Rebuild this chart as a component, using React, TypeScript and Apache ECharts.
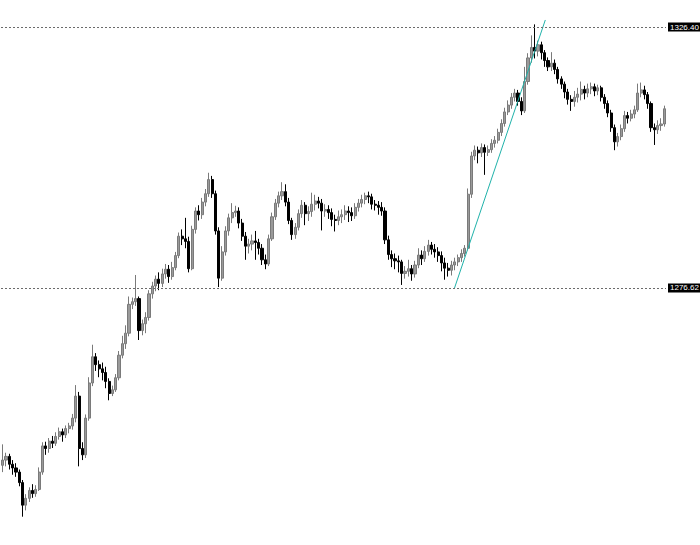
import React, { useEffect, useRef } from "react";
import * as echarts from "echarts";

const opens = [
  1242.8,1243.8,1244.5,1243.0,1242.3,1241.5,1239.5,1235.2,1236.5,1238.0,
  1237.4,1238.2,1241.5,1246.5,1246.0,1247.4,1247.0,1248.3,1249.2,1248.6,
  1249.8,1250.3,1251.8,1256.0,1246.0,1244.8,1251.8,1258.5,1263.5,1262.0,
  1261.2,1260.5,1258.8,1256.5,1257.2,1259.5,1263.8,1266.0,1268.0,1273.5,
  1274.0,1274.6,1268.5,1269.8,1271.0,1275.5,1277.0,1278.3,1277.5,1279.3,
  1280.2,1278.8,1280.5,1282.8,1286.5,1286.0,1285.5,1280.3,1287.8,1291.3,
  1290.6,1293.0,1294.6,1297.3,1294.6,1287.5,1278.5,1283.5,1287.5,1290.0,
  1291.0,1291.3,1289.0,1286.5,1284.6,1285.0,1285.6,1285.3,1284.2,1282.0,
  1281.2,1286.0,1290.2,1292.8,1294.2,1295.0,1293.0,1289.5,1286.8,1288.2,
  1290.8,1292.4,1290.8,1291.2,1292.6,1293.2,1292.8,1291.3,1291.6,1291.0,
  1289.7,1289.5,1290.2,1290.6,1291.3,1291.0,1290.4,1292.0,1292.8,1293.5,
  1294.2,1294.0,1292.6,1292.4,1292.0,1291.3,1285.8,1283.0,1282.2,1281.8,
  1281.6,1279.4,1279.8,1280.3,1279.3,1281.0,1282.9,1282.2,1283.6,1284.8,
  1284.0,1283.5,1282.8,1281.4,1280.4,1280.0,1281.0,1281.6,1282.4,1283.2,
  1284.2,1294.5,1301.8,1302.9,1302.4,1303.4,1302.5,1303.0,1304.2,1304.8,
  1306.3,1308.0,1310.2,1311.5,1313.0,1313.8,1312.2,1310.4,1316.0,1320.5,
  1322.5,1321.8,1323.0,1321.5,1320.0,1318.8,1319.5,1318.3,1316.5,1315.5,
  1314.0,1312.6,1312.2,1313.0,1313.6,1314.5,1313.8,1314.6,1315.0,1314.2,
  1314.8,1313.0,1311.8,1310.0,1307.2,1304.5,1305.5,1307.0,1309.5,1309.0,
  1309.8,1310.6,1313.8,1314.4,1313.5,1311.8,1307.2,1306.8,1307.6,1307.9,
];

const closes = [
  1243.8,1244.5,1243.0,1242.3,1241.5,1239.5,1235.2,1236.5,1238.0,1237.4,
  1238.2,1241.5,1246.5,1246.0,1247.4,1247.0,1248.3,1249.2,1248.6,1249.8,
  1250.3,1251.8,1256.0,1246.0,1244.8,1251.8,1258.5,1263.5,1262.0,1261.2,
  1260.5,1258.8,1256.5,1257.2,1259.5,1263.8,1266.0,1268.0,1273.5,1274.0,
  1274.6,1268.5,1269.8,1271.0,1275.5,1277.0,1278.3,1277.5,1279.3,1280.2,
  1278.8,1280.5,1282.8,1286.5,1286.0,1285.5,1280.3,1287.8,1291.3,1290.6,
  1293.0,1294.6,1297.3,1294.6,1287.5,1278.5,1283.5,1287.5,1290.0,1291.0,
  1291.3,1289.0,1286.5,1284.6,1285.0,1285.6,1285.3,1284.2,1282.0,1281.2,
  1286.0,1290.2,1292.8,1294.2,1295.0,1293.0,1289.5,1286.8,1288.2,1290.8,
  1292.4,1290.8,1291.2,1292.6,1293.2,1292.8,1291.3,1291.6,1291.0,1289.7,
  1289.5,1290.2,1290.6,1291.3,1291.0,1290.4,1292.0,1292.8,1293.5,1294.2,
  1294.0,1292.6,1292.4,1292.0,1291.3,1285.8,1283.0,1282.2,1281.8,1281.6,
  1279.4,1279.8,1280.3,1279.3,1281.0,1282.9,1282.2,1283.6,1284.8,1284.0,
  1283.5,1282.8,1281.4,1280.4,1280.0,1281.0,1281.6,1282.4,1283.2,1284.2,
  1294.5,1301.8,1302.9,1302.4,1303.4,1302.5,1303.0,1304.2,1304.8,1306.3,
  1308.0,1310.2,1311.5,1313.0,1313.8,1312.2,1310.4,1316.0,1320.5,1322.5,
  1321.8,1323.0,1321.5,1320.0,1318.8,1319.5,1318.3,1316.5,1315.5,1314.0,
  1312.6,1312.2,1313.0,1313.6,1314.5,1313.8,1314.6,1315.0,1314.2,1314.8,
  1313.0,1311.8,1310.0,1307.2,1304.5,1305.5,1307.0,1309.5,1309.0,1309.8,
  1310.6,1313.8,1314.4,1313.5,1311.8,1307.2,1306.8,1307.6,1307.9,1310.8,
];

const lows = [
  1241.5,1242.6,1242.0,1241.0,1240.6,1238.8,1233.0,1234.2,1235.8,1236.6,
  1236.8,1237.9,1241.0,1244.8,1245.2,1246.1,1246.5,1247.7,1247.3,1248.0,
  1248.9,1249.6,1251.0,1242.6,1243.8,1244.2,1251.3,1257.9,1260.8,1259.6,
  1259.0,1257.5,1255.2,1256.0,1256.8,1259.0,1263.2,1265.0,1267.4,1272.6,
  1273.2,1266.7,1267.6,1268.0,1270.4,1274.6,1276.0,1276.2,1276.8,1278.4,
  1277.6,1278.2,1280.0,1282.3,1284.8,1284.2,1279.6,1280.0,1287.0,1289.5,
  1289.8,1292.2,1294.0,1293.8,1286.8,1276.8,1278.0,1282.8,1286.6,1289.0,
  1290.2,1288.0,1285.6,1282.0,1283.2,1283.8,1282.0,1283.0,1281.0,1280.2,
  1280.8,1285.6,1289.6,1292.0,1293.4,1292.2,1288.8,1285.8,1286.0,1287.6,
  1290.0,1288.6,1289.4,1290.2,1291.4,1291.8,1287.6,1290.2,1289.8,1288.4,
  1287.4,1288.6,1289.0,1289.6,1289.2,1289.4,1289.8,1291.2,1292.0,1292.6,
  1292.8,1291.6,1291.4,1290.6,1290.4,1285.0,1282.0,1280.6,1280.2,1279.6,
  1277.2,1278.4,1278.8,1278.0,1278.6,1280.4,1281.0,1281.6,1282.8,1283.0,
  1282.4,1281.6,1279.8,1278.2,1278.8,1279.0,1280.0,1280.8,1281.6,1282.6,
  1283.8,1293.8,1301.0,1300.4,1301.6,1298.2,1301.8,1302.4,1303.4,1304.2,
  1305.6,1307.4,1309.6,1310.8,1312.2,1311.4,1309.6,1310.0,1315.4,1319.6,
  1320.4,1320.8,1320.2,1318.8,1318.0,1318.0,1317.4,1315.6,1314.6,1312.8,
  1311.6,1310.4,1311.2,1312.0,1312.4,1312.6,1313.0,1313.6,1313.2,1313.4,
  1312.2,1310.8,1309.2,1306.4,1302.9,1303.6,1304.8,1306.4,1308.0,1308.4,
  1309.0,1310.2,1313.0,1312.6,1310.8,1306.4,1303.9,1306.0,1306.6,1307.4,
];

const highs = [
  1246.8,1245.2,1245.0,1243.8,1243.2,1242.0,1240.0,1237.3,1238.6,1239.2,
  1239.0,1242.4,1247.2,1247.3,1248.0,1248.4,1249.1,1250.0,1249.8,1250.4,
  1250.9,1252.6,1258.1,1256.8,1247.2,1252.5,1259.6,1265.8,1264.2,1262.8,
  1262.4,1261.6,1259.4,1258.0,1260.2,1264.6,1267.5,1269.5,1275.0,1274.8,
  1279.1,1275.0,1270.6,1272.0,1276.2,1277.8,1279.0,1279.6,1280.3,1281.2,
  1281.0,1281.6,1283.5,1287.2,1287.8,1290.0,1286.4,1288.5,1292.0,1292.4,
  1293.8,1295.5,1298.6,1298.0,1295.2,1288.2,1284.6,1288.4,1290.8,1292.8,
  1292.3,1292.0,1289.8,1287.3,1286.0,1286.8,1287.5,1286.0,1285.0,1283.0,
  1286.8,1291.0,1293.6,1295.0,1296.8,1296.4,1293.8,1290.0,1289.0,1291.6,
  1293.4,1293.0,1292.2,1294.8,1294.4,1294.0,1293.6,1292.6,1292.4,1291.8,
  1290.6,1291.4,1291.6,1292.4,1292.2,1292.0,1292.8,1293.6,1294.4,1294.8,
  1295.0,1294.6,1293.4,1293.2,1293.0,1292.0,1286.6,1283.8,1283.2,1282.8,
  1282.0,1280.8,1282.0,1281.0,1281.8,1284.2,1283.8,1284.6,1285.8,1285.4,
  1285.0,1284.4,1283.6,1282.4,1281.4,1281.8,1282.4,1283.0,1284.0,1284.8,
  1295.6,1302.6,1303.8,1303.6,1304.2,1304.0,1303.8,1305.0,1305.6,1307.0,
  1308.8,1311.0,1312.4,1313.8,1314.6,1314.4,1313.0,1318.8,1321.4,1324.8,
  1326.9,1323.8,1323.6,1322.0,1320.6,1321.6,1320.2,1318.8,1317.0,1316.0,
  1314.6,1313.4,1314.2,1314.8,1316.0,1315.2,1315.6,1315.8,1315.6,1315.4,
  1315.2,1313.6,1312.4,1310.6,1307.8,1306.2,1307.8,1310.4,1310.2,1310.6,
  1311.4,1315.6,1315.8,1315.2,1314.0,1312.2,1308.0,1308.6,1309.0,1311.4,
];

const levels = [1326.40, 1276.62];

// trend line endpoints: [bar index, price]
const trendStart = [135.9, 1276.62];
const trendEnd = [163.2, 1327.74];

const categories = closes.map((_, i) => String(i + 1));

export default function App() {
  const ref = useRef<HTMLDivElement>(null);

  useEffect(() => {
    if (!ref.current) return;
    const chart = echarts.init(ref.current, null, { renderer: "svg" });
    const candleData = closes.map((c, i) => [opens[i], c, lows[i], highs[i]]);
    const n = categories.length;

    chart.setOption({
      animation: false,
      backgroundColor: "#ffffff",
      grid: { left: 1, right: 34, top: 0, bottom: 0, containLabel: false },
      xAxis: [
        {
          type: "category",
          data: categories,
          boundaryGap: true,
          show: false,
        },
        {
          type: "value",
          min: -0.5,
          max: n - 0.5,
          show: false,
        },
      ],
      yAxis: {
        type: "value",
        min: 1227.6,
        max: 1331.55,
        show: false,
        splitLine: { show: false },
      },
      series: [
        {
          type: "candlestick",
          data: candleData,
          barWidth: 2.6,
          itemStyle: {
            color: "#9a9a9a",
            color0: "#000000",
            borderColor: "#7a7a7a",
            borderColor0: "#000000",
            borderWidth: 1,
          },
          markLine: {
            silent: true,
            symbol: "none",
            animation: false,
            lineStyle: { color: "#6b6b6b", type: [2, 2], width: 1 },
            label: {
              position: "end",
              distance: 2,
              formatter: (p: any) => Number(p.value).toFixed(2),
              color: "#ffffff",
              backgroundColor: "#000000",
              fontSize: 8,
              lineHeight: 8,
              fontFamily: "Liberation Sans, Arial, sans-serif",
              padding: [1, 2, 0, 2],
            },
            data: levels.map((v) => ({ yAxis: v })),
          },
        },
        {
          type: "line",
          xAxisIndex: 1,
          data: [trendStart, trendEnd],
          symbol: "none",
          lineStyle: { color: "#20B2AA", width: 1 },
          silent: true,
        },
      ],
    });

    return () => chart.dispose();
  }, []);

  return (
    <div
      ref={ref}
      style={{
        position: "fixed",
        left: 0,
        top: 0,
        width: 700,
        height: 545,
        background: "#fff",
      }}
    />
  );
}
